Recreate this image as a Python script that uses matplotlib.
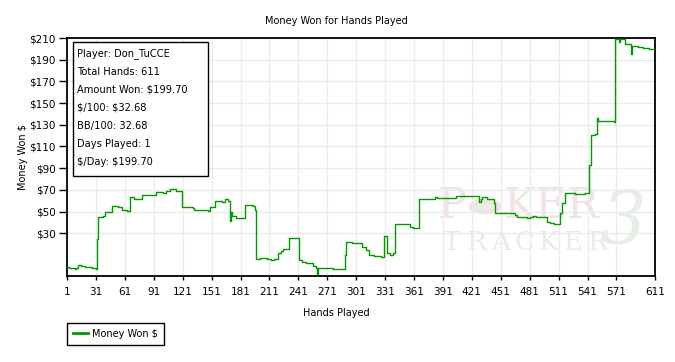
import matplotlib
matplotlib.use('Agg')
import matplotlib.pyplot as plt
from matplotlib.patches import Rectangle, Circle

W, H = 675, 362

# cumulative winnings (hand number, $)
hands = [1, 3, 9, 10, 12, 16, 20, 27, 31, 32, 33, 38, 40, 48, 54, 58, 63, 66, 71,
         77, 79, 84, 93, 101, 104, 108, 114, 117, 120, 132, 133, 139, 147, 149,
         155, 162, 165, 168, 170, 171, 172, 176, 186, 194, 196, 197, 201, 209,
         213, 216, 220, 223, 225, 231, 242, 245, 249, 256, 259, 260, 261, 277,
         289, 290, 297, 304, 307, 311, 314, 320, 327, 330, 333, 336, 339, 341,
         357, 360, 363, 366, 383, 385, 405, 427, 428, 430, 432, 437, 444, 445,
         447, 466, 468, 478, 481, 484, 488, 499, 502, 506, 512, 515, 518, 528,
         538, 543, 545, 549, 551, 552, 568, 569, 574, 575, 580, 586, 587, 593,
         599, 605, 611]
money = [-1.3, -2.3, -3.2, -2.3, 0.5, 0.0, -1.0, -2.3, -3.0, 25.0, 44.7, 46.0,
         49.4, 54.9, 54.0, 51.5, 50.3, 63.2, 61.6, 61.6, 65.6, 65.0, 67.8, 67.0,
         68.5, 70.5, 69.3, 68.5, 54.0, 53.3, 51.5, 51.0, 50.5, 54.0, 60.0, 58.8,
         61.3, 60.0, 41.6, 49.9, 46.0, 43.8, 56.0, 55.2, 51.0, 6.0, 6.9, 6.0,
         5.4, 6.0, 12.1, 14.0, 15.2, 25.4, 5.4, 3.8, 2.3, -0.1, -2.3, -8.0,
         -2.3, -3.2, 9.7, 22.3, 21.3, 20.8, 17.1, 14.6, 10.0, 9.1, 7.9, 27.8,
         11.6, 10.0, 11.6, 38.3, 36.1, 34.6, 34.6, 61.6, 63.7, 62.2, 64.7, 64.0,
         58.6, 61.3, 63.2, 61.3, 57.7, 49.0, 48.5, 46.6, 45.3, 43.8, 45.3, 46.2,
         44.7, 40.7, 39.8, 38.6, 48.4, 57.6, 66.9, 66.2, 67.0, 93.0, 120.5,
         121.5, 136.0, 133.5, 132.9, 209.0, 206.6, 209.0, 204.5, 195.3, 202.6,
         201.4, 200.5, 199.6, 199.7]

xticks = [1, 31, 61, 91, 121, 151, 181, 211, 241, 271, 301, 331, 361, 391,
          421, 451, 481, 511, 541, 571, 611]
yticks = [30, 50, 70, 90, 110, 130, 150, 170, 190, 210]

stats = ["Player: Don_TuCCE", "Total Hands: 611", "Amount Won: $199.70",
         "$/100: $32.68", "BB/100: 32.68", "Days Played: 1", "$/Day: $199.70"]

def fx(x):
    return x / W

def fy(y):
    return 1 - y / H

def ax_xy(x, y):
    # pixel position -> axes fraction
    return (x - 67) / 588, (276 - y) / 238

plt.rcParams['font.family'] = 'DejaVu Sans'
plt.rcParams['text.parse_math'] = False
fig = plt.figure(figsize=(W / 100, H / 100), dpi=100)
ax = fig.add_axes([fx(67), fy(276), 588 / W, 238 / H])

# faint watermark
pink = '#f3e2e2'
ax.text(*ax_xy(452, 206), 'P', transform=ax.transAxes, fontsize=31, family='DejaVu Serif',
        color=pink, ha='center', va='center', zorder=0)
ax.text(*ax_xy(552, 206), 'KER', transform=ax.transAxes, fontsize=31, family='DejaVu Serif',
        color=pink, ha='center', va='center', zorder=0)
ax.add_patch(Circle(ax_xy(485, 206.5), 14 / 588, transform=ax.transAxes, facecolor='#e6eee6',
                    edgecolor=pink, lw=3, zorder=0))
for i, ch in enumerate('TRACKER'):
    ax.text(*ax_xy(452 + 24.2 * i, 243), ch, transform=ax.transAxes, fontsize=19,
            family='DejaVu Serif', color='#e8ece8', ha='center', va='center', zorder=0)
ax.text(*ax_xy(623, 223), '3', transform=ax.transAxes, fontsize=52, family='DejaVu Serif',
        style='italic', color='#e6eee6', ha='center', va='center', zorder=0)

ax.plot(hands, money, color='#009900', lw=1.0, drawstyle='steps-post',
        label='Money Won $', zorder=3)

ax.set_xlim(1, 611)
ax.set_ylim(-9.4, 210)
ax.set_xticks(xticks)
ax.set_yticks(yticks)
ax.set_yticklabels(['$%d' % v for v in yticks])
ax.grid(True, color='#ebebeb', lw=1.0)
ax.set_axisbelow(True)
for s in ax.spines.values():
    s.set_linewidth(1.3)
    s.set_color('black')
ax.tick_params(axis='y', length=6, width=1.0, pad=2, labelsize=7.5)
ax.tick_params(axis='x', length=3, width=1.0, pad=5, labelsize=7.5)

fig.text(fx(336), fy(21), 'Money Won for Hands Played', ha='center', va='center', fontsize=7)
fig.text(fx(336), fy(313), 'Hands Played', ha='center', va='center', fontsize=7)
fig.text(fx(23), fy(157), 'Money Won $', ha='center', va='center', rotation=90, fontsize=7)

# stats box
fig.patches.append(Rectangle((fx(72.5), fy(176.5)), 135 / W, 134 / H, transform=fig.transFigure,
                             facecolor='white', edgecolor='black', lw=1.0, zorder=5))
for i, s in enumerate(stats):
    fig.text(fx(77), fy(54 + 18 * i), s, ha='left', va='center', fontsize=7.1, zorder=6)

leg = fig.legend(loc='upper left', bbox_to_anchor=(fx(67), fy(323)), fontsize=7,
                 fancybox=False, edgecolor='black', framealpha=1, borderaxespad=0,
                 handlelength=1.6, borderpad=0.6, handletextpad=0.4)
leg.get_frame().set_linewidth(1.0)
for l in leg.get_lines():
    l.set_linewidth(2)

fig.savefig('out.png', dpi=100)
